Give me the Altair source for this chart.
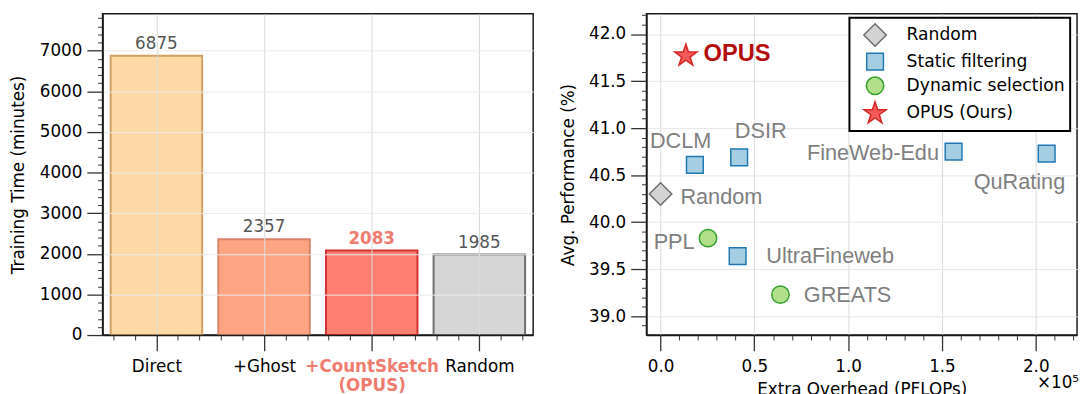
import json
import altair as alt
import pandas as pd

# ---------------- data: left panel ----------------
bar_methods = ["Direct", "+Ghost", "+CountSketch", "Random"]
bar_tick_labels = ["Direct", "+Ghost", "+CountSketch\n(OPUS)", "Random"]
train_minutes = [6875, 2357, 2083, 1985]
highlight_method = "+CountSketch"

# ---------------- data: right panel ----------------
point_names = ["Random", "DCLM", "DSIR", "FineWeb-Edu", "QuRating",
               "UltraFineweb", "PPL", "GREATS", "OPUS"]
point_groups = ["Random", "Static filtering", "Static filtering", "Static filtering",
                "Static filtering", "Static filtering", "Dynamic selection",
                "Dynamic selection", "OPUS (Ours)"]
overhead_1e5 = [0.0, 0.183, 0.419, 1.562, 2.058, 0.411, 0.253, 0.639, 0.135]
avg_perf = [40.30, 40.61, 40.69, 40.75, 40.73, 39.64, 39.83, 39.23, 41.77]
label_x = [0.324, 0.107, 0.534, 1.132, 1.913, 0.904, 0.0725, 0.997, 0.408]
label_y = [40.265, 40.863, 40.967, 40.730, 40.430, 39.64, 39.783, 39.22, 41.785]
legend_groups = ["Random", "Static filtering", "Dynamic selection", "OPUS (Ours)"]

# ---------------- styles ----------------
bar_fills = ["#FEDAA6", "#FFA584", "#FF7F73", "#D6D6D6"]
bar_strokes = ["#CFA062", "#D8826A", "#D6302F", "#6E6E6E"]
highlight_color = "#F07C70"
STAR = ("M0,-1L0.2245,-0.309L0.9511,-0.309L0.3633,0.118L0.5878,0.809L0,0.382"
        "L-0.5878,0.809L-0.3633,0.118L-0.9511,-0.309L-0.2245,-0.309Z")
grp_shapes = ["diamond", "square", "circle", STAR]
grp_fills = ["#D3D3D3", "#A6CEE3", "#B2DF8A", "#F45A5A"]
grp_strokes = ["#6E6E6E", "#1F78B4", "#33A02C", "#D62728"]
grp_sizes = [520, 289, 310, 560]

FONT = "DejaVu Sans"
FS = 17
W, H = 437, 326

df_bars = pd.DataFrame({"method": bar_methods, "minutes": train_minutes,
                        "idx": list(range(len(bar_methods)))})
df_pts = pd.DataFrame({"name": point_names, "group": point_groups,
                       "ov": overhead_1e5, "perf": avg_perf,
                       "lx": label_x, "ly": label_y})

# ---------------- left panel ----------------
xs1 = alt.Scale(domain=[-0.5, len(bar_methods) - 0.5], nice=False, zero=False)
ys1 = alt.Scale(domain=[0, max(train_minutes) * 1.15], nice=False)
hi_idx = bar_methods.index(highlight_method)

label_arr = json.dumps([s.split("\n") for s in bar_tick_labels])
x1_major = alt.Axis(
    orient="bottom", values=list(range(len(bar_methods))), title=None,
    labelExpr=f"{label_arr}[datum.value]", tickSize=16, labelPadding=8,
    labelLineHeight=19, grid=True, gridColor="#DADADA", zindex=1,
    labelColor={"condition": {"test": f"datum.value == {hi_idx}", "value": highlight_color},
                "value": "black"},
    labelFontWeight={"condition": {"test": f"datum.value == {hi_idx}", "value": "bold"},
                     "value": "normal"},
)
y1_major = alt.Axis(
    orient="left", values=list(range(0, 7001, 1000)), format="d",
    title="Training Time (minutes)",
    tickSize=16, labelPadding=5, titlePadding=12, grid=True, gridColor="#EBEBEB", zindex=1,
)
x1_minor_vals = [round(-0.4 + 0.2 * i, 1) for i in range(20)]
x1_minor_vals = [v for v in x1_minor_vals if abs(v - round(v)) > 1e-6]
y1_minor_vals = [v for v in range(0, 7801, 200) if v % 1000 != 0]
x1_minor = alt.Axis(orient="bottom", values=x1_minor_vals, tickSize=5, labels=False,
                    domain=False, grid=False, title=None, tickWidth=1, zindex=1)
y1_minor = alt.Axis(orient="left", values=y1_minor_vals, tickSize=5, labels=False,
                    domain=False, grid=False, title=None, tickWidth=1, zindex=1)

bars = alt.Chart(df_bars).transform_calculate(
    lo="datum.idx - 0.425", hi="datum.idx + 0.425", zero="0"
).mark_bar(strokeWidth=2, fillOpacity=1).encode(
    x=alt.X("lo:Q", scale=xs1, axis=x1_major),
    x2="hi:Q",
    y=alt.Y("minutes:Q", scale=ys1, axis=y1_major),
    y2="zero:Q",
    fill=alt.Fill("method:N", scale=alt.Scale(domain=bar_methods, range=bar_fills), legend=None),
    stroke=alt.Stroke("method:N", scale=alt.Scale(domain=bar_methods, range=bar_strokes), legend=None),
)
minor1 = alt.Chart(df_bars).mark_point(opacity=0, size=1).encode(
    x=alt.X("idx:Q", scale=xs1, axis=x1_minor),
    y=alt.Y("minutes:Q", scale=ys1, axis=y1_minor),
)
vals_norm = alt.Chart(df_bars).transform_filter(
    f"datum.method != '{highlight_method}'"
).mark_text(dy=-7, baseline="alphabetic", font=FONT, fontSize=FS, color="#555555").encode(
    x=alt.X("idx:Q", scale=xs1, axis=None),
    y=alt.Y("minutes:Q", scale=ys1, axis=None),
    text=alt.Text("minutes:Q", format="d"),
)
vals_hi = alt.Chart(df_bars).transform_filter(
    f"datum.method == '{highlight_method}'"
).mark_text(dy=-7, baseline="alphabetic", font=FONT, fontSize=FS, fontWeight="bold",
            color=highlight_color).encode(
    x=alt.X("idx:Q", scale=xs1, axis=None),
    y=alt.Y("minutes:Q", scale=ys1, axis=None),
    text=alt.Text("minutes:Q", format="d"),
)
left = alt.layer(bars, minor1, vals_norm, vals_hi).resolve_axis(
    x="independent", y="independent").properties(width=W, height=H)

# ---------------- right panel ----------------
xs2 = alt.Scale(domain=[-0.075, 2.22], nice=False, zero=False)
ys2 = alt.Scale(domain=[38.8, 42.215], nice=False, zero=False)

x2_major = alt.Axis(orient="bottom", values=[0, 0.5, 1.0, 1.5, 2.0], format=".1f",
                    title="Extra Overhead (PFLOPs)", tickSize=16, labelPadding=8,
                    titlePadding=7, grid=True, gridColor="#DADADA")
y2_major = alt.Axis(orient="left", values=[39.0, 39.5, 40.0, 40.5, 41.0, 41.5, 42.0],
                    format=".1f", title="Avg. Performance (%)", tickSize=16,
                    labelPadding=5, titlePadding=11, grid=True, gridColor="#E6E6E6")
x2_minor_vals = [round(0.1 * i, 1) for i in range(1, 23) if i % 5 != 0]
y2_minor_vals = [round(38.9 + 0.1 * i, 1) for i in range(0, 34)]
y2_minor_vals = [v for v in y2_minor_vals if round(v * 10) % 5 != 0 and v <= 42.2]
x2_minor = alt.Axis(orient="bottom", values=x2_minor_vals, tickSize=5, labels=False,
                    domain=False, grid=False, title=None, tickWidth=1)
y2_minor = alt.Axis(orient="left", values=y2_minor_vals, tickSize=5, labels=False,
                    domain=False, grid=False, title=None, tickWidth=1)

leg = alt.Legend(title=None, orient="none", legendX=206, legendY=4,
                 strokeColor="black", fillColor="white", padding=5,
                 symbolOffset=8, labelOffset=19, rowPadding=1, labelLimit=300,
                 labelFont=FONT, labelFontSize=17.4, labelColor="black",
                 symbolStrokeWidth=1.5, cornerRadius=0)

points = alt.Chart(df_pts).mark_point(opacity=1, strokeWidth=1.5).encode(
    x=alt.X("ov:Q", scale=xs2, axis=x2_major),
    y=alt.Y("perf:Q", scale=ys2, axis=y2_major),
    shape=alt.Shape("group:N", scale=alt.Scale(domain=legend_groups, range=grp_shapes), legend=leg),
    fill=alt.Fill("group:N", scale=alt.Scale(domain=legend_groups, range=grp_fills), legend=leg),
    stroke=alt.Stroke("group:N", scale=alt.Scale(domain=legend_groups, range=grp_strokes), legend=leg),
    size=alt.Size("group:N", scale=alt.Scale(type="ordinal", domain=legend_groups, range=grp_sizes),
                  legend=leg),
)
minor2 = alt.Chart(df_pts).mark_point(opacity=0, size=1).encode(
    x=alt.X("ov:Q", scale=xs2, axis=x2_minor),
    y=alt.Y("perf:Q", scale=ys2, axis=y2_minor),
)
ann = alt.Chart(df_pts).transform_filter("datum.name != 'OPUS'").mark_text(
    font="Liberation Sans", fontSize=22, color="#7F7F7F", align="center", baseline="middle"
).encode(
    x=alt.X("lx:Q", scale=xs2, axis=None),
    y=alt.Y("ly:Q", scale=ys2, axis=None),
    text="name:N",
)
ann_opus = alt.Chart(df_pts).transform_filter("datum.name == 'OPUS'").mark_text(
    font="Liberation Sans", fontSize=24, fontWeight="bold", color="#B40D0D",
    align="center", baseline="middle"
).encode(
    x=alt.X("lx:Q", scale=xs2, axis=None),
    y=alt.Y("ly:Q", scale=ys2, axis=None),
    text="name:N",
)
mult = alt.Chart(pd.DataFrame({"t": ["×10⁵"]})).mark_text(
    align="right", baseline="alphabetic", font=FONT, fontSize=FS, color="black"
).encode(x=alt.value(W + 2), y=alt.value(H + 54), text="t:N")

right = alt.layer(points, minor2, ann, ann_opus, mult).resolve_axis(
    x="independent", y="independent").properties(width=W, height=H)

chart = alt.hconcat(left, right, spacing=25).resolve_scale(
    fill="independent", stroke="independent", shape="independent", size="independent"
).properties(
    padding={"left": 0, "top": 2, "right": 0, "bottom": 0}
).configure_view(
    stroke="#1a1a1a", strokeWidth=1.5
).configure_axis(
    labelFont=FONT, labelFontSize=FS, labelColor="black",
    titleFont=FONT, titleFontSize=FS, titleFontWeight="normal", titleColor="black",
    domainColor="#1a1a1a", domainWidth=1.5, tickColor="#333333", tickWidth=1.3, gridWidth=1,
).configure_legend(strokeWidth=2)

chart.save("out.html", embed_options={"renderer": "svg", "actions": False})
